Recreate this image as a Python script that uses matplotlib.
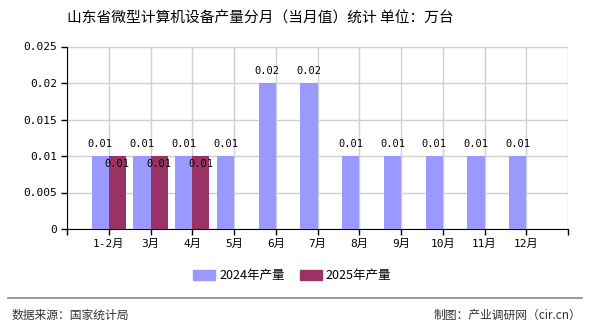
import matplotlib
matplotlib.use("Agg")
import matplotlib.pyplot as plt
import numpy as np
from matplotlib.patches import Patch
from matplotlib.lines import Line2D

plt.rcParams['font.family'] = ['Noto Sans CJK SC', 'DejaVu Sans']

months = ["1-2月", "3月", "4月", "5月", "6月", "7月", "8月", "9月", "10月", "11月", "12月"]
output_2024 = [0.01, 0.01, 0.01, 0.01, 0.02, 0.02, 0.01, 0.01, 0.01, 0.01, 0.01]
output_2025 = [0.01, 0.01, 0.01]
y_ticks = [0, 0.005, 0.01, 0.015, 0.02, 0.025]
y_tick_labels = ["0", "0.005", "0.01", "0.015", "0.02", "0.025"]

c2024 = "#9999FF"
c2025 = "#993366"
num_font = ['DejaVu Sans Mono', 'Noto Sans CJK SC']

fig = plt.figure(figsize=(5.9, 3.3), dpi=100)
ax = fig.add_axes([67 / 590, 1 - 229 / 330, (568 - 67) / 590, (229 - 46.5) / 330])

x = np.arange(len(months))
w = 0.41
ax.bar(x - w / 2, output_2024, width=w, color=c2024, zorder=3)
x25 = np.arange(len(output_2025))
ax.bar(x25 + w / 2, output_2025, width=w, color=c2025, zorder=3)

for xi, v in zip(x, output_2024):
    ax.annotate(f"{v:g}", (xi - w / 2, v), xytext=(0, 5), textcoords="offset points",
                ha="center", va="bottom", fontsize=7.5, family=num_font, zorder=4)
for xi, v in zip(x25, output_2025):
    ax.annotate(f"{v:g}", (xi + w / 2, v), xytext=(0, -2), textcoords="offset points",
                ha="center", va="top", fontsize=7.5, family=num_font, zorder=4)

ax.set_xlim(-1, len(months))
ax.set_ylim(0, 0.025)
ax.set_yticks(y_ticks)
ax.set_yticklabels(y_tick_labels, family=num_font, fontsize=8)
ax.set_xticks(np.arange(-1, len(months) + 1))
ax.set_xticklabels([""] + months + [""], family=num_font, fontsize=8)
ax.tick_params(axis="both", length=4, width=1, color="black", pad=3)

ax.grid(True, color="#d0d0d0", linewidth=1, zorder=0)
ax.set_axisbelow(True)
for s in ["top", "right"]:
    ax.spines[s].set_visible(False)
ax.spines["left"].set_color("black")
ax.spines["bottom"].set_color("black")

fig.text(260 / 590, 1 - 18 / 330, "山东省微型计算机设备产量分月（当月值）统计 单位：万台",
         ha="center", va="center", fontsize=10.6)

handles = [Patch(color=c2024, label="2024年产量"), Patch(color=c2025, label="2025年产量")]
fig.legend(handles=handles, loc="center", bbox_to_anchor=(292 / 590, 1 - 276 / 330), ncol=2,
           frameon=False, fontsize=9, handlelength=1.8, handleheight=0.8,
           columnspacing=1.2, handletextpad=0.3)

fig.add_artist(Line2D([8 / 590, 582 / 590], [1 - 298 / 330] * 2, color="#888888", linewidth=1.2))
fig.text(12 / 590, 1 - 315 / 330, "数据来源：国家统计局", ha="left", va="center",
         fontsize=8.5, color="#333333")
fig.text(581 / 590, 1 - 315 / 330, "制图：产业调研网（cir.cn）", ha="right", va="center",
         fontsize=8.5, color="#333333")

fig.savefig("out.png", dpi=100)
